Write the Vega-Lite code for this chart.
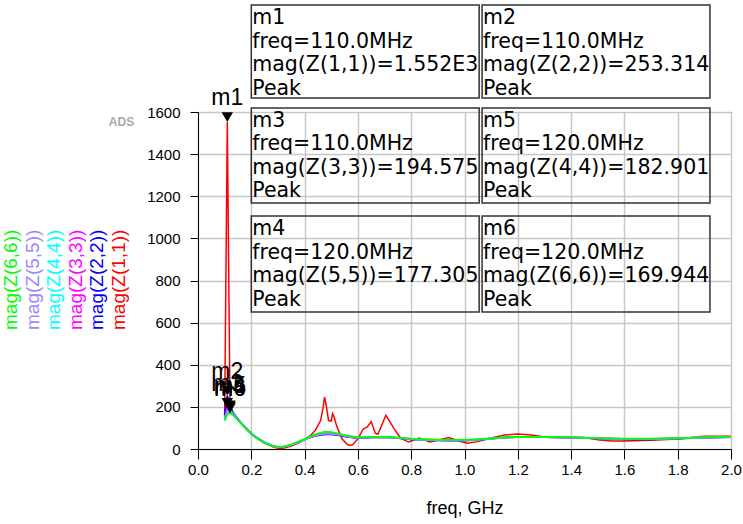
{
  "$schema": "https://vega.github.io/schema/vega-lite/v6.json",
  "autosize": "none",
  "width": 533,
  "height": 337,
  "padding": {"left": 198, "top": 112, "right": 12, "bottom": 75},
  "background": "white",
  "config": {
    "view": {"stroke": "#000000", "strokeWidth": 1},
    "font": "Liberation Sans"
  },
  "datasets": {
    "red": [
      {"f": 0.10, "Z11": 160}, {"f": 0.11, "Z11": 1552}, {"f": 0.12, "Z11": 195}, {"f": 0.13, "Z11": 172},
      {"f": 0.14, "Z11": 155}, {"f": 0.15, "Z11": 140}, {"f": 0.16, "Z11": 125}, {"f": 0.18, "Z11": 98},
      {"f": 0.20, "Z11": 71}, {"f": 0.22, "Z11": 51}, {"f": 0.25, "Z11": 27}, {"f": 0.28, "Z11": 10},
      {"f": 0.30, "Z11": 4}, {"f": 0.32, "Z11": 4}, {"f": 0.35, "Z11": 14}, {"f": 0.38, "Z11": 30},
      {"f": 0.40, "Z11": 45}, {"f": 0.42, "Z11": 62}, {"f": 0.44, "Z11": 88}, {"f": 0.46, "Z11": 135},
      {"f": 0.47, "Z11": 200}, {"f": 0.475, "Z11": 247}, {"f": 0.48, "Z11": 215}, {"f": 0.49, "Z11": 135},
      {"f": 0.50, "Z11": 132}, {"f": 0.505, "Z11": 168}, {"f": 0.51, "Z11": 155}, {"f": 0.52, "Z11": 110},
      {"f": 0.54, "Z11": 48}, {"f": 0.56, "Z11": 22}, {"f": 0.57, "Z11": 17}, {"f": 0.58, "Z11": 20},
      {"f": 0.60, "Z11": 48}, {"f": 0.62, "Z11": 95}, {"f": 0.635, "Z11": 105}, {"f": 0.65, "Z11": 130},
      {"f": 0.665, "Z11": 75}, {"f": 0.675, "Z11": 70}, {"f": 0.69, "Z11": 115}, {"f": 0.705, "Z11": 160},
      {"f": 0.72, "Z11": 130}, {"f": 0.735, "Z11": 98}, {"f": 0.76, "Z11": 52}, {"f": 0.79, "Z11": 33},
      {"f": 0.83, "Z11": 52}, {"f": 0.87, "Z11": 33}, {"f": 0.90, "Z11": 42}, {"f": 0.94, "Z11": 55},
      {"f": 0.98, "Z11": 38}, {"f": 1.01, "Z11": 27}, {"f": 1.05, "Z11": 35}, {"f": 1.10, "Z11": 52},
      {"f": 1.15, "Z11": 66}, {"f": 1.20, "Z11": 71}, {"f": 1.25, "Z11": 66}, {"f": 1.30, "Z11": 57},
      {"f": 1.40, "Z11": 56}, {"f": 1.45, "Z11": 55}, {"f": 1.50, "Z11": 44}, {"f": 1.55, "Z11": 38},
      {"f": 1.60, "Z11": 38}, {"f": 1.70, "Z11": 42}, {"f": 1.80, "Z11": 48}, {"f": 1.85, "Z11": 55},
      {"f": 1.90, "Z11": 60}, {"f": 2.00, "Z11": 61}
    ],
    "others": [
      {"f": 0.10, "Z22": 160, "Z33": 150, "Z44": 142, "Z55": 140, "Z66": 135},
      {"f": 0.11, "Z22": 253.314, "Z33": 194.575, "Z44": 178, "Z55": 172, "Z66": 165},
      {"f": 0.12, "Z22": 205, "Z33": 186, "Z44": 182.901, "Z55": 177.305, "Z66": 169.944},
      {"f": 0.13, "Z22": 175, "Z33": 170, "Z44": 168, "Z55": 166, "Z66": 163},
      {"f": 0.14, "Z22": 158, "Z33": 155, "Z44": 154, "Z55": 152, "Z66": 150},
      {"f": 0.15, "Z22": 142, "Z33": 140, "Z44": 139, "Z55": 138, "Z66": 136},
      {"f": 0.16, "Z22": 127, "Z33": 126, "Z44": 125, "Z55": 124, "Z66": 123},
      {"f": 0.18, "Z22": 99, "Z33": 99, "Z44": 98, "Z55": 98, "Z66": 97},
      {"f": 0.20, "Z22": 74, "Z33": 73, "Z44": 73, "Z55": 72, "Z66": 72},
      {"f": 0.22, "Z22": 54, "Z33": 53, "Z44": 53, "Z55": 52, "Z66": 52},
      {"f": 0.25, "Z22": 31, "Z33": 30, "Z44": 30, "Z55": 29, "Z66": 29},
      {"f": 0.28, "Z22": 15, "Z33": 14, "Z44": 14, "Z55": 14, "Z66": 14},
      {"f": 0.30, "Z22": 9, "Z33": 9, "Z44": 9, "Z55": 9, "Z66": 10},
      {"f": 0.32, "Z22": 10, "Z33": 10, "Z44": 10, "Z55": 10, "Z66": 11},
      {"f": 0.35, "Z22": 19, "Z33": 19, "Z44": 20, "Z55": 20, "Z66": 21},
      {"f": 0.38, "Z22": 33, "Z33": 33, "Z44": 34, "Z55": 35, "Z66": 36},
      {"f": 0.40, "Z22": 45, "Z33": 45, "Z44": 46, "Z55": 47, "Z66": 48},
      {"f": 0.42, "Z22": 55, "Z33": 56, "Z44": 57, "Z55": 58, "Z66": 59},
      {"f": 0.44, "Z22": 62, "Z33": 64, "Z44": 66, "Z55": 67, "Z66": 69},
      {"f": 0.46, "Z22": 67, "Z33": 70, "Z44": 72, "Z55": 73, "Z66": 77},
      {"f": 0.48, "Z22": 70, "Z33": 72, "Z44": 75, "Z55": 74, "Z66": 82},
      {"f": 0.50, "Z22": 70, "Z33": 72, "Z44": 74, "Z55": 74, "Z66": 80},
      {"f": 0.53, "Z22": 65, "Z33": 67, "Z44": 69, "Z55": 68, "Z66": 72},
      {"f": 0.56, "Z22": 58, "Z33": 59, "Z44": 61, "Z55": 60, "Z66": 63},
      {"f": 0.60, "Z22": 52, "Z33": 53, "Z44": 54, "Z55": 54, "Z66": 55},
      {"f": 0.65, "Z22": 55, "Z33": 55, "Z44": 56, "Z55": 56, "Z66": 56},
      {"f": 0.70, "Z22": 56, "Z33": 56, "Z44": 57, "Z55": 57, "Z66": 57},
      {"f": 0.75, "Z22": 52, "Z33": 53, "Z44": 53, "Z55": 53, "Z66": 54},
      {"f": 0.80, "Z22": 46, "Z33": 47, "Z44": 47, "Z55": 48, "Z66": 49},
      {"f": 0.85, "Z22": 43, "Z33": 44, "Z44": 44, "Z55": 45, "Z66": 46},
      {"f": 0.90, "Z22": 41, "Z33": 42, "Z44": 42, "Z55": 43, "Z66": 44},
      {"f": 0.95, "Z22": 40, "Z33": 41, "Z44": 41, "Z55": 42, "Z66": 43},
      {"f": 1.00, "Z22": 40, "Z33": 41, "Z44": 41, "Z55": 42, "Z66": 43},
      {"f": 1.05, "Z22": 44, "Z33": 44, "Z44": 45, "Z55": 45, "Z66": 46},
      {"f": 1.10, "Z22": 49, "Z33": 49, "Z44": 49, "Z55": 50, "Z66": 50},
      {"f": 1.15, "Z22": 54, "Z33": 54, "Z44": 54, "Z55": 55, "Z66": 55},
      {"f": 1.20, "Z22": 57, "Z33": 57, "Z44": 57, "Z55": 58, "Z66": 58},
      {"f": 1.30, "Z22": 56, "Z33": 56, "Z44": 56, "Z55": 57, "Z66": 57},
      {"f": 1.40, "Z22": 54, "Z33": 54, "Z44": 55, "Z55": 55, "Z66": 55},
      {"f": 1.50, "Z22": 50, "Z33": 51, "Z44": 51, "Z55": 52, "Z66": 52},
      {"f": 1.60, "Z22": 46, "Z33": 47, "Z44": 47, "Z55": 48, "Z66": 49},
      {"f": 1.70, "Z22": 46, "Z33": 47, "Z44": 47, "Z55": 48, "Z66": 49},
      {"f": 1.80, "Z22": 49, "Z33": 50, "Z44": 50, "Z55": 51, "Z66": 51},
      {"f": 1.90, "Z22": 54, "Z33": 54, "Z44": 55, "Z55": 55, "Z66": 55},
      {"f": 2.00, "Z22": 57, "Z33": 57, "Z44": 58, "Z55": 58, "Z66": 58}
    ],
    "markers": [
      {"marker": "m1", "trace": "Z11", "f": 0.11, "mag": 1552},
      {"marker": "m2", "trace": "Z22", "f": 0.11, "mag": 253.314},
      {"marker": "m3", "trace": "Z33", "f": 0.11, "mag": 194.575},
      {"marker": "m5", "trace": "Z44", "f": 0.12, "mag": 182.901},
      {"marker": "m4", "trace": "Z55", "f": 0.12, "mag": 177.305},
      {"marker": "m6", "trace": "Z66", "f": 0.12, "mag": 169.944}
    ],
    "boxes": [
      {"marker": "m1", "f0": 0.2, "f1": 1.055, "lo": 1666, "hi": 2108, "label": "m1\nfreq=110.0MHz\nmag(Z(1,1))=1.552E3\nPeak"},
      {"marker": "m2", "f0": 1.066, "f1": 1.921, "lo": 1666, "hi": 2108, "label": "m2\nfreq=110.0MHz\nmag(Z(2,2))=253.314\nPeak"},
      {"marker": "m3", "f0": 0.2, "f1": 1.055, "lo": 1168, "hi": 1619, "label": "m3\nfreq=110.0MHz\nmag(Z(3,3))=194.575\nPeak"},
      {"marker": "m5", "f0": 1.066, "f1": 1.921, "lo": 1168, "hi": 1619, "label": "m5\nfreq=120.0MHz\nmag(Z(4,4))=182.901\nPeak"},
      {"marker": "m4", "f0": 0.2, "f1": 1.055, "lo": 650, "hi": 1106, "label": "m4\nfreq=120.0MHz\nmag(Z(5,5))=177.305\nPeak"},
      {"marker": "m6", "f0": 1.066, "f1": 1.921, "lo": 650, "hi": 1106, "label": "m6\nfreq=120.0MHz\nmag(Z(6,6))=169.944\nPeak"}
    ],
    "legend": [
      {"trace": "Z66", "label": "mag(Z(6,6))", "f": -0.7, "mag": 565},
      {"trace": "Z55", "label": "mag(Z(5,5))", "f": -0.62, "mag": 565},
      {"trace": "Z44", "label": "mag(Z(4,4))", "f": -0.54, "mag": 565},
      {"trace": "Z33", "label": "mag(Z(3,3))", "f": -0.459, "mag": 565},
      {"trace": "Z22", "label": "mag(Z(2,2))", "f": -0.378, "mag": 565},
      {"trace": "Z11", "label": "mag(Z(1,1))", "f": -0.298, "mag": 565}
    ],
    "watermark": [
      {"text": "ADS", "f": -0.287, "mag": 1553}
    ]
  },
  "layer": [
    {
      "data": {"name": "red"},
      "transform": [{"fold": ["Z11"], "as": ["trace", "mag"]}],
      "mark": {"type": "line", "strokeWidth": 1.5, "interpolate": "linear"},
      "encoding": {
        "x": {
          "field": "f", "type": "quantitative",
          "scale": {"domain": [0, 2], "nice": false, "zero": false},
          "axis": {
            "title": "freq, GHz",
            "values": [0, 0.1, 0.2, 0.3, 0.4, 0.5, 0.6, 0.7, 0.8, 0.9, 1.0, 1.1, 1.2, 1.3, 1.4, 1.5, 1.6, 1.7, 1.8, 1.9, 2.0],
            "format": ".1f",
            "labelExpr": "round(datum.value*10) % 2 == 0 ? datum.label : ''",
            "labelFont": "Liberation Sans", "labelFontSize": 15, "labelColor": "#000000",
            "labelPadding": 3, "labelFlush": false, "labelOverlap": false,
            "titleFont": "Liberation Sans", "titleFontSize": 18, "titleFontWeight": "normal", "titleColor": "#000000", "titlePadding": 22,
            "domainColor": "#000000", "domainWidth": 1,
            "tickColor": "#000000", "tickWidth": 1,
            "tickSize": {"condition": {"test": "round(datum.value*10) % 2 == 0", "value": 10}, "value": 6},
            "grid": true, "gridColor": "#c8c8c8", "gridWidth": 1.5,
            "gridOpacity": {"condition": {"test": "round(datum.value*10) % 2 == 0", "value": 1}, "value": 0}
          }
        },
        "y": {
          "field": "mag", "type": "quantitative",
          "scale": {"domain": [0, 1600], "nice": false, "zero": false},
          "axis": {
            "title": null,
            "values": [0, 100, 200, 300, 400, 500, 600, 700, 800, 900, 1000, 1100, 1200, 1300, 1400, 1500, 1600],
            "labelExpr": "datum.value % 200 == 0 ? datum.label : ''",
            "format": "d",
            "labelFont": "Liberation Sans", "labelFontSize": 15, "labelColor": "#000000",
            "labelPadding": 10, "labelFlush": false, "labelOverlap": false,
            "domainColor": "#000000", "domainWidth": 1,
            "tickColor": "#000000", "tickWidth": 1, "tickSize": 8,
            "grid": true, "gridColor": "#c8c8c8", "gridWidth": 1.5,
            "gridOpacity": {"condition": {"test": "datum.value % 200 == 0", "value": 1}, "value": 0}
          }
        },
        "color": {
          "field": "trace", "type": "nominal",
          "scale": {"domain": ["Z11", "Z22", "Z33", "Z44", "Z55", "Z66"], "range": ["#ff0000", "#0000ff", "#ff00ff", "#00ffff", "#9988ff", "#00ff00"]},
          "legend": null
        }
      }
    },
    {
      "data": {"name": "others"},
      "transform": [{"fold": ["Z22", "Z33", "Z44", "Z55", "Z66"], "as": ["trace", "mag"]}],
      "mark": {"type": "line", "strokeWidth": 1.8, "interpolate": "linear"},
      "encoding": {
        "x": {"field": "f", "type": "quantitative"},
        "y": {"field": "mag", "type": "quantitative"},
        "color": {"field": "trace", "type": "nominal", "legend": null}
      }
    },
    {
      "data": {"name": "markers"},
      "mark": {"type": "point", "shape": "triangle-down", "size": 130, "filled": true, "color": "#000000", "opacity": 1, "yOffset": -5, "strokeWidth": 0},
      "encoding": {
        "x": {"field": "f", "type": "quantitative"},
        "y": {"field": "mag", "type": "quantitative"}
      }
    },
    {
      "data": {"name": "markers"},
      "mark": {"type": "text", "font": "Liberation Sans", "fontSize": 23, "color": "#000000", "align": "center", "baseline": "alphabetic", "dy": -17},
      "encoding": {
        "x": {"field": "f", "type": "quantitative"},
        "y": {"field": "mag", "type": "quantitative"},
        "text": {"field": "marker"}
      }
    },
    {
      "data": {"name": "boxes"},
      "mark": {"type": "rect", "fill": null, "fillOpacity": 0, "stroke": "#333333", "strokeWidth": 1.5, "clip": false},
      "encoding": {
        "x": {"field": "f0", "type": "quantitative"},
        "x2": {"field": "f1"},
        "y": {"field": "lo", "type": "quantitative"},
        "y2": {"field": "hi"}
      }
    },
    {
      "data": {"name": "boxes"},
      "mark": {"type": "text", "font": "DejaVu Sans", "fontSize": 20.5, "color": "#000000", "align": "left", "baseline": "alphabetic", "lineBreak": "\n", "lineHeight": 23.5, "dx": 1, "dy": 19, "clip": false},
      "encoding": {
        "x": {"field": "f0", "type": "quantitative"},
        "y": {"field": "hi", "type": "quantitative"},
        "text": {"field": "label"}
      }
    },
    {
      "data": {"name": "legend"},
      "mark": {"type": "text", "font": "Liberation Sans", "fontSize": 19, "angle": 270, "align": "left", "baseline": "middle", "clip": false},
      "encoding": {
        "x": {"field": "f", "type": "quantitative"},
        "y": {"field": "mag", "type": "quantitative"},
        "text": {"field": "label"},
        "color": {"field": "trace", "type": "nominal", "legend": null}
      }
    },
    {
      "data": {"name": "watermark"},
      "mark": {"type": "text", "font": "Liberation Sans", "fontSize": 12, "fontWeight": "bold", "color": "#aaaaaa", "align": "center", "baseline": "middle", "clip": false},
      "encoding": {
        "x": {"field": "f", "type": "quantitative"},
        "y": {"field": "mag", "type": "quantitative"},
        "text": {"field": "text"}
      }
    }
  ]
}
